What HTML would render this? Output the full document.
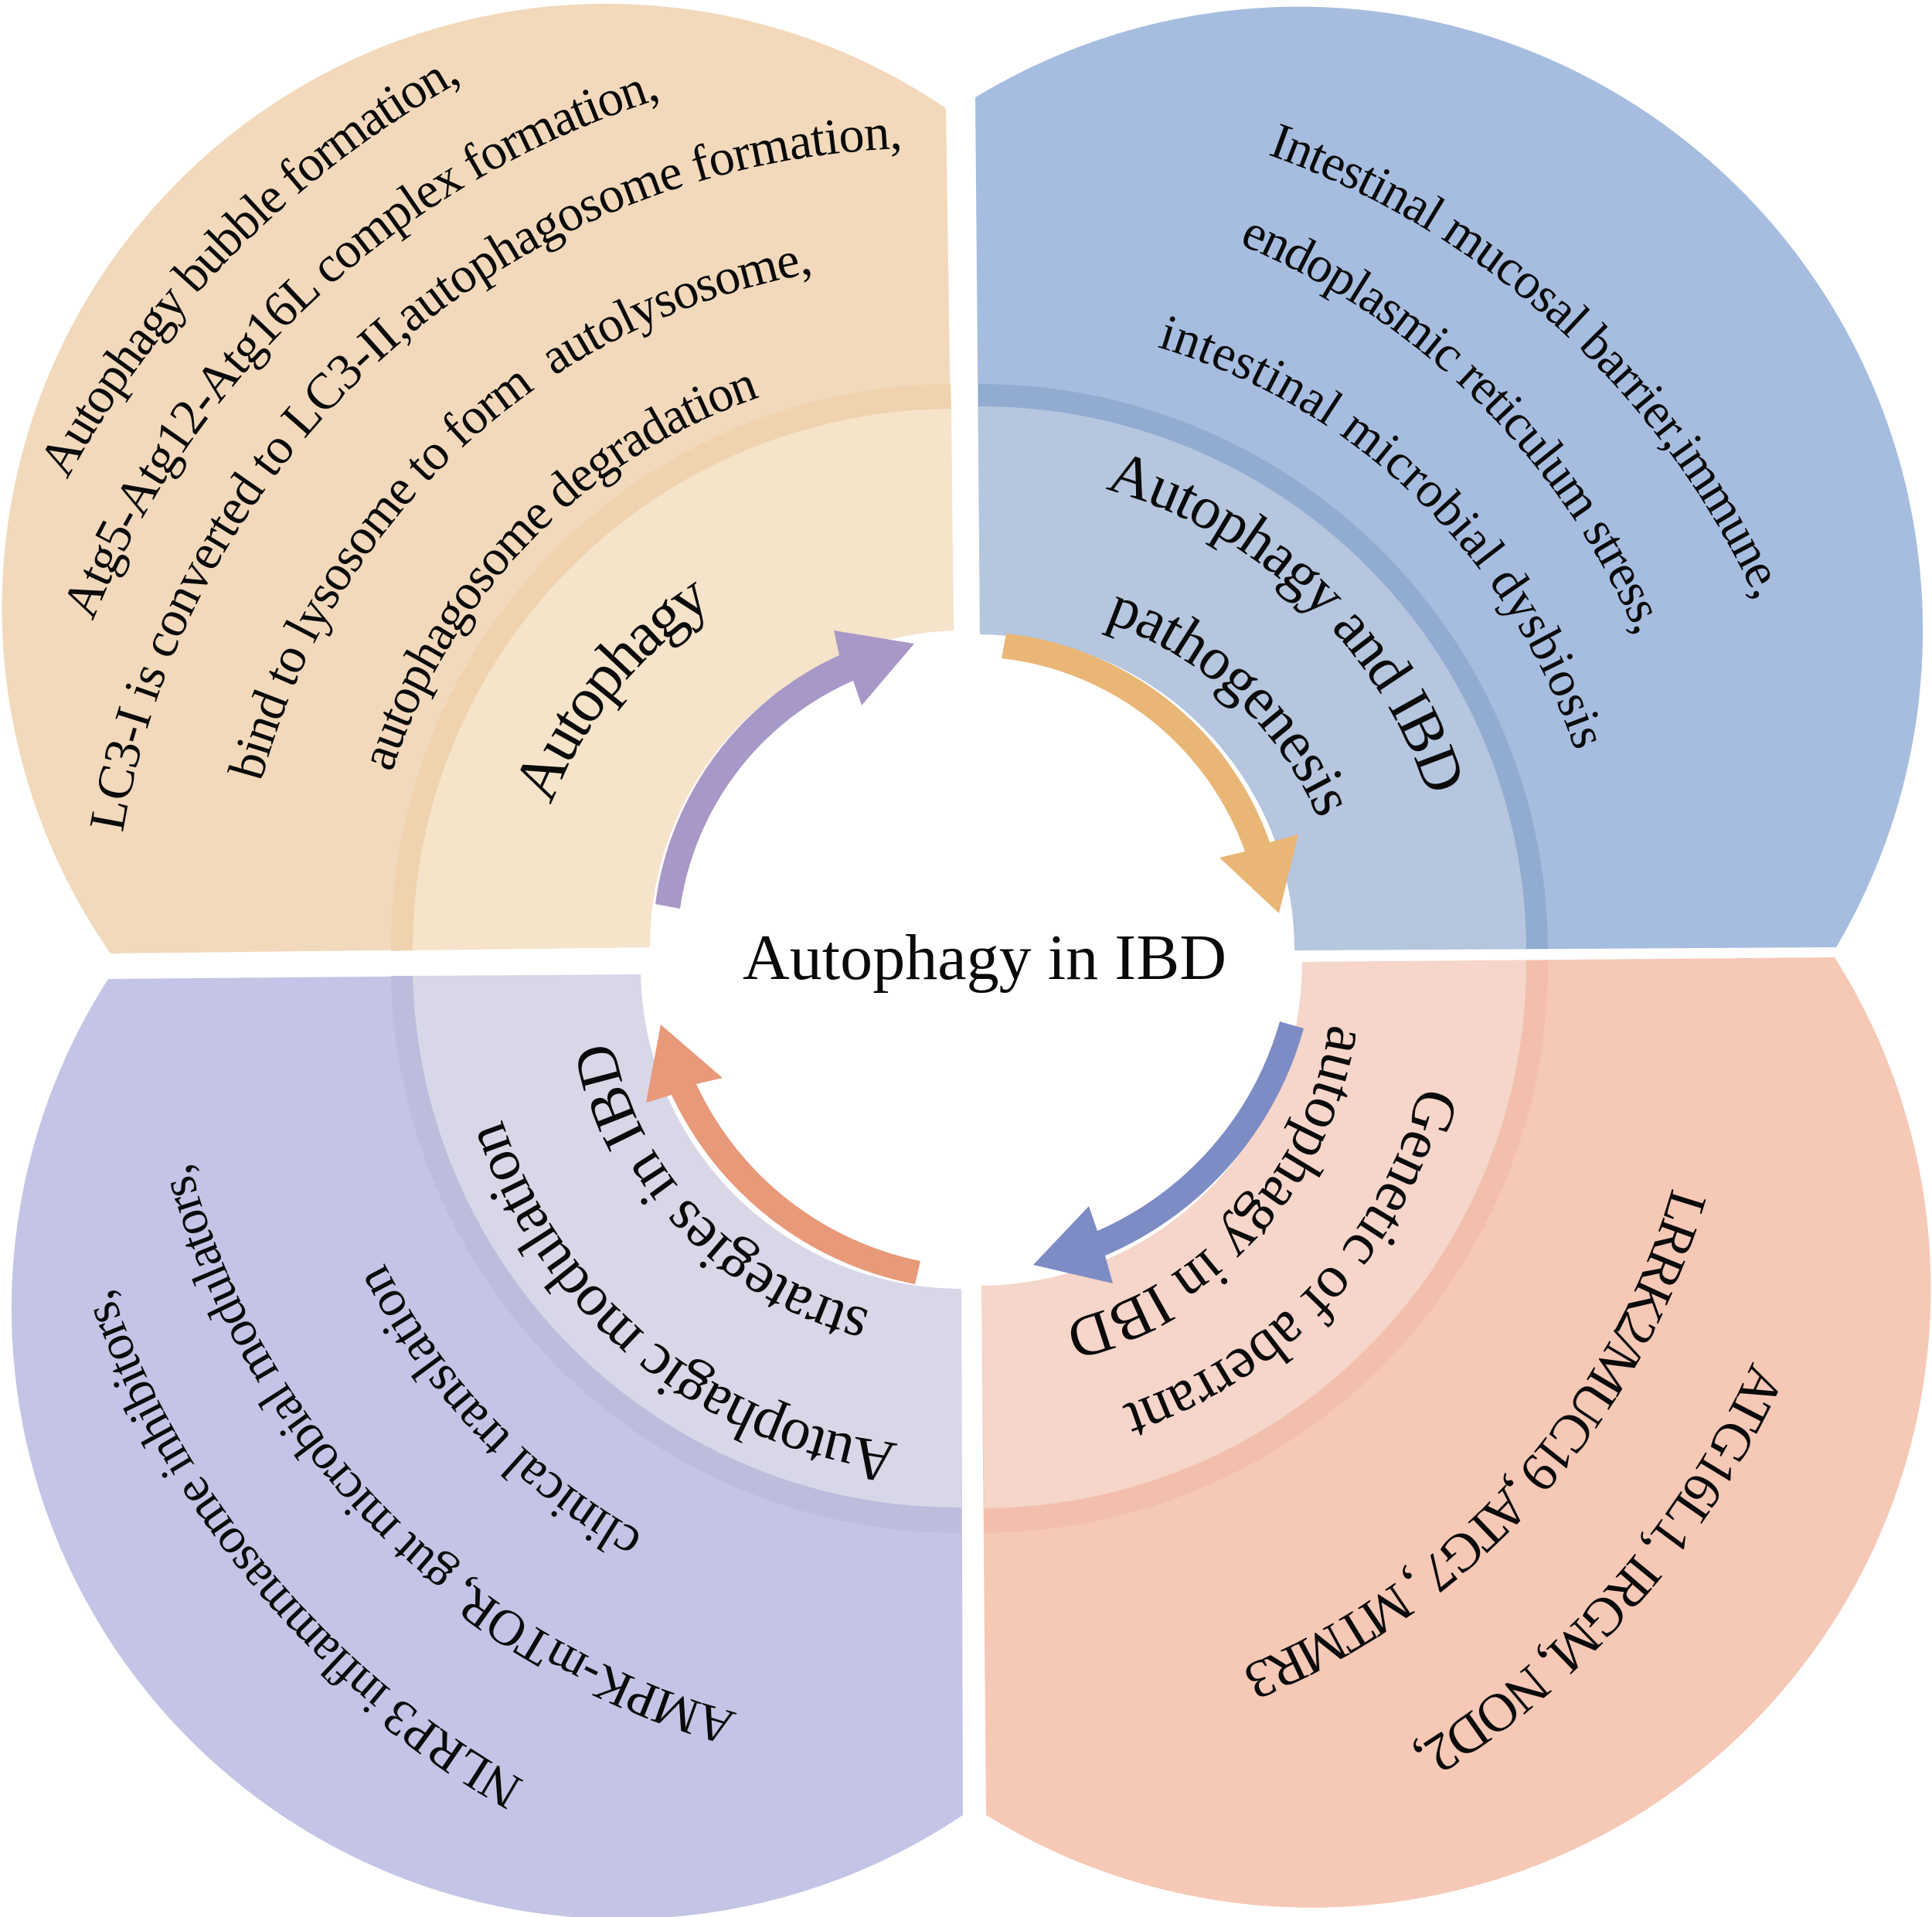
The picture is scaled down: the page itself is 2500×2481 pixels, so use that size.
<!DOCTYPE html>
<html><head><meta charset="utf-8"><style>
html,body{margin:0;padding:0;background:#fff}
svg{display:block}
text{font-family:"Liberation Serif",serif;fill:#0a0a0a;white-space:pre}
</style></head><body>
<svg xmlns="http://www.w3.org/2000/svg" width="2500" height="2481" viewBox="0 0 2500 2481">
<rect width="2500" height="2481" fill="#fff"/>
<!-- TL -->
<path fill="#f2d9bc" d="M1224,140 A782,782 0 0 0 143,1234 L841,1226 A408,408 0 0 1 1234,816 Z"/>
<path fill="#f5e3ca" d="M534,1230 A700,700 0 0 1 1231,529 L1234,816 A408,408 0 0 0 841,1226 Z"/>
<path fill="#f0d2ae" d="M506,1231 A728,728 0 0 1 1230,497 L1231,529 A700,700 0 0 0 534,1230 Z"/>
<!-- TR -->
<path fill="#a6bde0" d="M1262,126 A807,807 0 0 1 2376,1226 L1675,1230 A408,408 0 0 0 1268,821 Z"/>
<path fill="#b5c6de" d="M1266,526 A705,705 0 0 1 1975,1228 L1675,1230 A408,408 0 0 0 1268,821 Z"/>
<path fill="#92abd1" d="M1266,497 A735,735 0 0 1 2003,1228 L1975,1228 A705,705 0 0 0 1266,526 Z"/>
<!-- BR -->
<path fill="#f6c8b6" d="M2374,1239 A801,801 0 0 1 1276,2349 L1270,1664 A418,418 0 0 0 1685,1245 Z"/>
<path fill="#f6d5ca" d="M1975,1243 A705,705 0 0 1 1274,1952 L1270,1664 A418,418 0 0 0 1685,1245 Z"/>
<path fill="#f2bfac" d="M2003,1243 A735,735 0 0 1 1274,1984 L1274,1952 A705,705 0 0 0 1975,1243 Z"/>
<!-- BL -->
<path fill="#c4c4e6" d="M1246,2349 A790,790 0 0 1 140,1267 L829,1261 A415,415 0 0 0 1244,1668 Z"/>
<path fill="#d7d7e7" d="M1244,1951 A705,705 0 0 1 534,1263 L829,1261 A415,415 0 0 0 1244,1668 Z"/>
<path fill="#bcbddd" d="M1244,1984 A735,735 0 0 1 506,1263 L534,1263 A705,705 0 0 0 1244,1951 Z"/>
<!-- arrows -->
<path fill="#a898c8" d="M848,1170 A412,412 0 0 1 1086,848 L1079,816 L1183,833 L1115,913 L1104,881 A380,380 0 0 0 880,1176 Z"/>
<path fill="#e9b676" d="M1302,820 A408,408 0 0 1 1643,1090 L1680,1080 L1655,1182 L1578,1110 L1611,1102 A380,380 0 0 0 1296,852 Z"/>
<path fill="#7d8cc4" d="M1687,1331 A450,450 0 0 1 1430,1625 L1440,1661 L1337,1637 L1409,1561 L1420,1593 A420,420 0 0 0 1656,1322 Z"/>
<path fill="#e8997a" d="M1184,1662 A440,440 0 0 1 869,1417 L836,1427 L855,1326 L935,1395 L901,1403 A410,410 0 0 0 1191,1632 Z"/>
<defs>
<path id="a1" d="M87,621 A1293,1293 0 0 1 599,104"/>
<path id="a2" d="M120,804 A1175,1175 0 0 1 857,127"/>
<path id="a3" d="M159,1078 A1060,1060 0 0 1 1170,192"/>
<path id="a4" d="M338,1012 A905,905 0 0 1 1054,353"/>
<path id="a5" d="M507,1000 A757,757 0 0 1 986,513"/>
<path id="a6" d="M713,1042 A540,540 0 0 1 925,782"/>
<path id="b1" d="M1640,200 A1095,1095 0 0 1 2272,775"/>
<path id="b2" d="M1603,316 A955,955 0 0 1 2119,825"/>
<path id="b3" d="M1497,449 A813,813 0 0 1 2039,974"/>
<path id="b4" d="M1430,633 A610,610 0 0 1 1848,1030"/>
<path id="b5" d="M1430,805 A462,462 0 0 1 1707,1062"/>
<path id="c1" d="M1838,1405 A590,590 0 0 1 1450,1820"/>
<path id="c2" d="M1720,1325 A465,465 0 0 1 1374,1712"/>
<path id="c3" d="M2164,1537 A955,955 0 0 1 1607,2158"/>
<path id="c4" d="M2268,1762 A1140,1140 0 0 1 1831,2263"/>
<path id="d1" d="M1162,1868 A615,615 0 0 1 649,1447"/>
<path id="d2" d="M1126,1696 A449,449 0 0 1 792,1345"/>
<path id="d3" d="M833,1985 A823,823 0 0 1 500,1640"/>
<path id="d4" d="M954,2217 A1005,1005 0 0 1 245,1505"/>
<path id="d5" d="M679,2305 A1175,1175 0 0 1 145,1672"/>
</defs>
<g font-size="66">
<text><textPath href="#a1" textLength="736" lengthAdjust="spacing">Autophagy bubble formation,</textPath></text>
<text><textPath href="#a2" textLength="1032" lengthAdjust="spacing">Atg5-Atg12-Atg16L complex formation,</textPath></text>
<text><textPath href="#a3" textLength="1454" lengthAdjust="spacing">LC3-I is converted to LC3-II,autophagosome formation,</textPath></text>
<text><textPath href="#a4" textLength="1026" lengthAdjust="spacing">bind to lysosome to form  autolysosome,</textPath></text>
<text><textPath href="#a5" textLength="706" lengthAdjust="spacing">autophagosome degradation</textPath></text>
<text><textPath href="#b1" textLength="881" lengthAdjust="spacing">Intestinal mucosal barrier,immune,</textPath></text>
<text><textPath href="#b2" textLength="742" lengthAdjust="spacing">endoplasmic reticulum stress,</textPath></text>
<text><textPath href="#b3" textLength="783" lengthAdjust="spacing">intestinal microbial dysbiosis</textPath></text>
<text font-size="70"><textPath href="#c3" textLength="864" lengthAdjust="spacing">LRRK2/MUC19 ,ATG7 , MTMR3</textPath></text>
<text font-size="70"><textPath href="#c4" textLength="680" lengthAdjust="spacing">ATG16L1, IRGM, NOD2,</textPath></text>
<text font-size="68"><textPath href="#d3" textLength="493" lengthAdjust="spacing">clinical translation</textPath></text>
<text><textPath href="#d4" textLength="1053" lengthAdjust="spacing">AMPK-mTOR, gut microbial modulators,</textPath></text>
<text><textPath href="#d5" textLength="852" lengthAdjust="spacing">NLRP3 inflammasome inhibitors,</textPath></text>
</g>
<g font-size="78">
<text font-size="82"><textPath href="#a6" textLength="338" lengthAdjust="spacing">Autophagy</textPath></text>
<text><textPath href="#b4" textLength="602" lengthAdjust="spacing">Autophagy and IBD</textPath></text>
<text><textPath href="#b5" textLength="388" lengthAdjust="spacing">pathogenesis</textPath></text>
<text><textPath href="#c1" textLength="591" lengthAdjust="spacing">Genetic of aberrant</textPath></text>
<text><textPath href="#c2" textLength="548" lengthAdjust="spacing">autophagy in IBD</textPath></text>
<text><textPath href="#d1" textLength="699" lengthAdjust="spacing">Autophagic modulation</textPath></text>
<text><textPath href="#d2" textLength="510" lengthAdjust="spacing">strategies in IBD</textPath></text>
</g>
<text x="961" y="1267" font-size="84" textLength="626" lengthAdjust="spacing">Autophagy in IBD</text>
</svg>
</body></html>
